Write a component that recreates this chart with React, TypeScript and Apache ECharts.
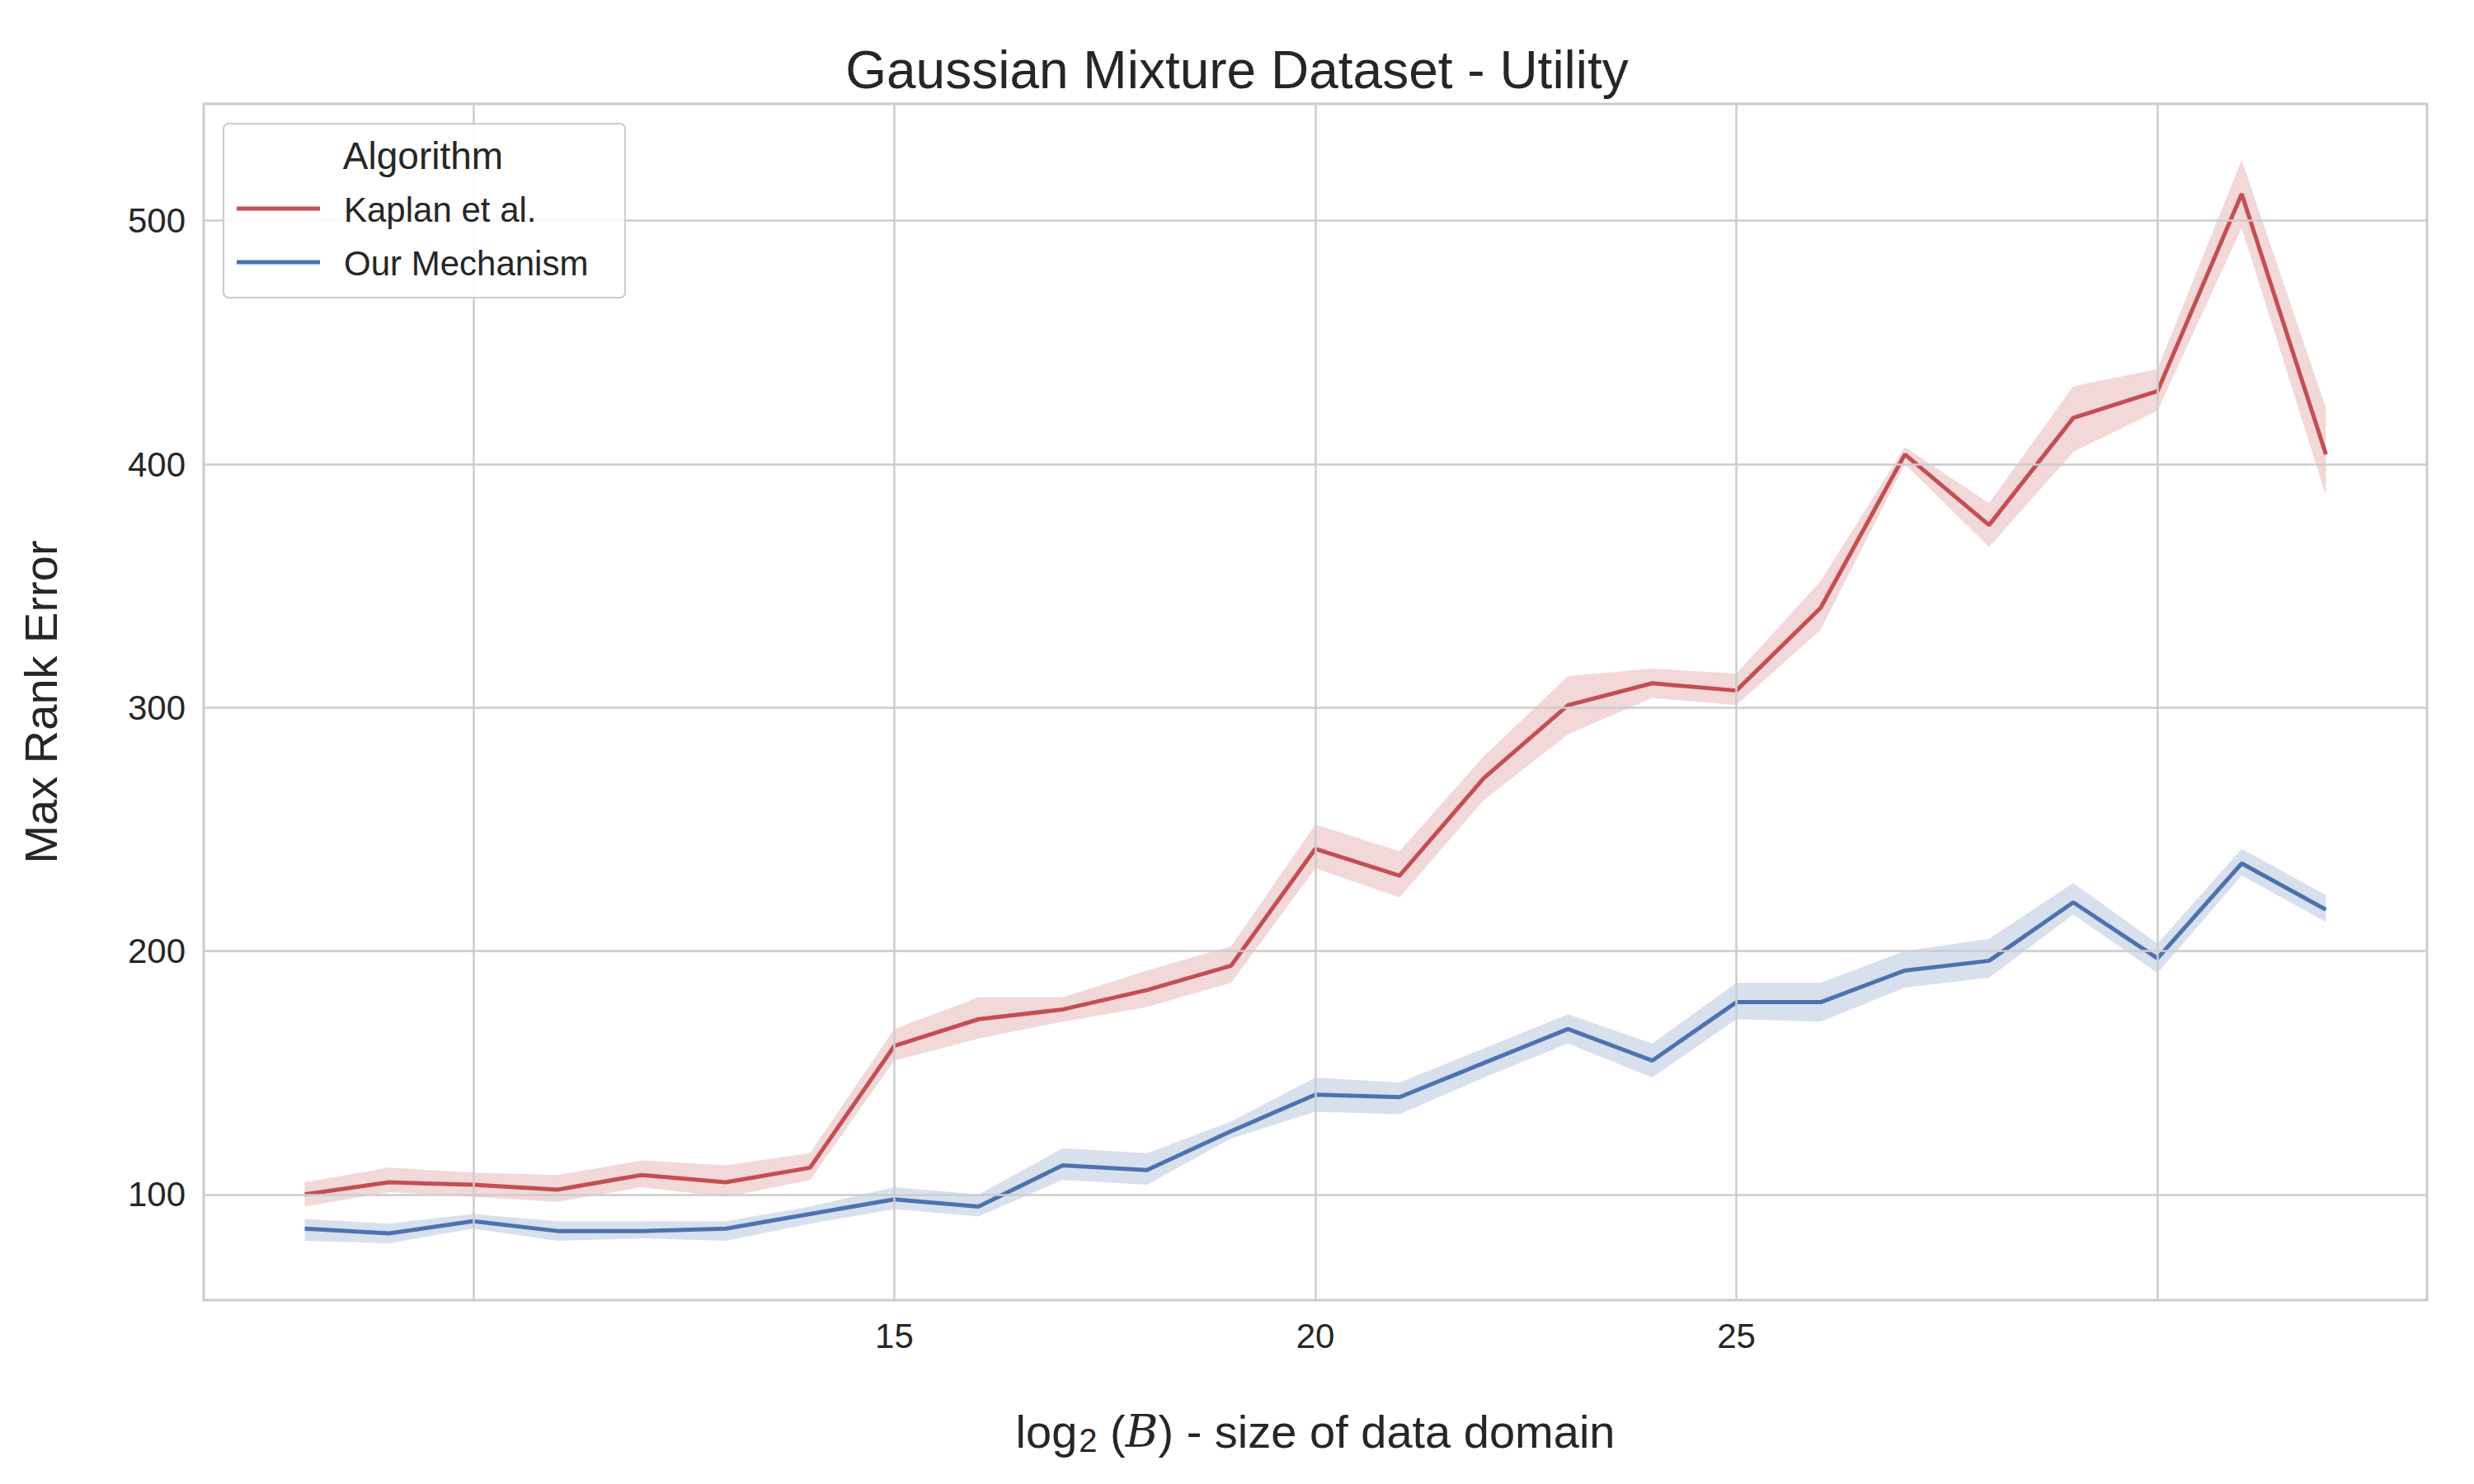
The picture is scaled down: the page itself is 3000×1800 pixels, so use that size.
import React, { useEffect, useRef } from "react";
import * as echarts from "echarts";

const xs = [8,9,10,11,12,13,14,15,16,17,18,19,20,21,22,23,24,25,26,27,28,29,30,31,32];
const kaplan = [100,105,104,102,108,105,111,161,172,176,184,194,242,231,271,301,310,307,341,404,375,419,430,511,404];
const kaplanUp = [105,111,109,108,114,112,117,168,181,181,192,202,252,241,280,313,316,314,352,407,384,432,439,525,423];
const kaplanLo = [95,101,99,97,103,99,106,155,164,171,177,187,234,222,262,289,304,301,332,400,366,405,422,497,387];
const ours = [86,84,89,85,85,86,92,98,95,112,110,126,141,140,154,168,155,179,179,192,196,220,197,236,217];
const oursUp = [90,88,92,89,89,89,95,103,100,119,117,130,148,146,160,174,162,187,187,200,205,228,203,242,223];
const oursLo = [81,80,86,81,82,81,88,94,91,106,104,123,134,133,148,162,148,172,171,185,189,215,191,231,212];
const xTicks = [10, 15, 20, 25, 30];
const yTicks = [100, 200, 300, 400, 500];

const RED = "#c44e52";
const BLUE = "#4c72b0";
const FONT = "Liberation Sans, Arial, sans-serif";
const TXT = "#262626";

function band(up: number[], lo: number[], color: string) {
  return {
    type: "custom",
    data: [0],
    z: 1,
    renderItem: (_p: any, api: any) => {
      const pts: number[][] = [];
      xs.forEach((x, i) => pts.push(api.coord([x, up[i]])));
      for (let i = xs.length - 1; i >= 0; i--) pts.push(api.coord([xs[i], lo[i]]));
      return { type: "polygon", shape: { points: pts }, style: { fill: color, opacity: 0.22 } };
    },
  };
}

export default function App() {
  const ref = useRef<HTMLDivElement>(null);
  useEffect(() => {
    document.body.style.margin = "0";
    const chart = echarts.init(ref.current!, undefined, { renderer: "svg" });
    chart.setOption({
      animation: false,
      backgroundColor: "#ffffff",
      title: {
        text: "Gaussian Mixture Dataset - Utility",
        left: "center",
        top: 48,
        textStyle: { fontFamily: FONT, fontSize: 64, fontWeight: "normal", color: TXT },
      },
      grid: { left: 247, right: 57, top: 126, bottom: 223, show: true, borderColor: "#cccccc", borderWidth: 3 },
      xAxis: {
        type: "value", min: 6.8, max: 33.2,
        axisLine: { show: false }, axisTick: { show: false },
        splitLine: { show: false },
        axisLabel: { fontFamily: FONT, fontSize: 42, color: TXT, margin: 22, customValues: xTicks, showMinLabel: false, showMaxLabel: false },
        name: "{n|log}{s|2}{n| (}{i|B}{n|) - size of data domain}",
        nameLocation: "middle", nameGap: 128,
        nameTextStyle: {
          rich: {
            n: { fontFamily: FONT, fontSize: 56, color: TXT },
            s: { fontFamily: FONT, fontSize: 40, color: TXT, padding: [22, 0, 0, 2] },
            i: { fontFamily: "DejaVu Serif", fontStyle: "italic", fontSize: 54, color: TXT },
          },
        },
      },
      yAxis: {
        type: "value", min: 56.6, max: 548,
        axisLine: { show: false }, axisTick: { show: false },
        splitLine: { show: false },
        axisLabel: { fontFamily: FONT, fontSize: 42, color: TXT, margin: 22, customValues: yTicks },
        name: "Max Rank Error", nameLocation: "middle", nameGap: 170,
        nameTextStyle: { fontFamily: FONT, fontSize: 56, color: TXT },
      },
      series: [
        {
          type: "line", data: [], silent: true,
          markLine: {
            silent: true, symbol: ["none", "none"], label: { show: false },
            lineStyle: { color: "#cccccc", width: 2.5, type: "solid" },
            data: [...xTicks.map((v) => ({ xAxis: v })), ...yTicks.map((v) => ({ yAxis: v }))],
          },
          z: 0,
        },
        band(kaplanUp, kaplanLo, RED),
        band(oursUp, oursLo, BLUE),
        { type: "line", name: "Kaplan et al.", data: xs.map((x, i) => [x, kaplan[i]]), showSymbol: false, lineStyle: { color: RED, width: 5 }, itemStyle: { color: RED }, z: 3 },
        { type: "line", name: "Our Mechanism", data: xs.map((x, i) => [x, ours[i]]), showSymbol: false, lineStyle: { color: BLUE, width: 5 }, itemStyle: { color: BLUE }, z: 3 },
      ],
      graphic: [
        { type: "rect", left: 270, top: 149, shape: { width: 487, height: 211, r: 6 }, style: { fill: "rgba(255,255,255,0.85)", stroke: "#cccccc", lineWidth: 2 }, z: 10 },
        { type: "text", x: 513, y: 189, style: { text: "Algorithm", fontFamily: FONT, fontSize: 46, fill: TXT, align: "center", verticalAlign: "middle" }, z: 11 },
        { type: "line", shape: { x1: 287, y1: 253, x2: 388, y2: 253 }, style: { stroke: RED, lineWidth: 5 }, z: 11 },
        { type: "text", x: 417, y: 254, style: { text: "Kaplan et al.", fontFamily: FONT, fontSize: 42, fill: TXT, verticalAlign: "middle" }, z: 11 },
        { type: "line", shape: { x1: 287, y1: 318, x2: 388, y2: 318 }, style: { stroke: BLUE, lineWidth: 5 }, z: 11 },
        { type: "text", x: 417, y: 319, style: { text: "Our Mechanism", fontFamily: FONT, fontSize: 42, fill: TXT, verticalAlign: "middle" }, z: 11 },
      ],
    });
    return () => chart.dispose();
  }, []);
  return <div ref={ref} style={{ width: 3000, height: 1800 }} />;
}
